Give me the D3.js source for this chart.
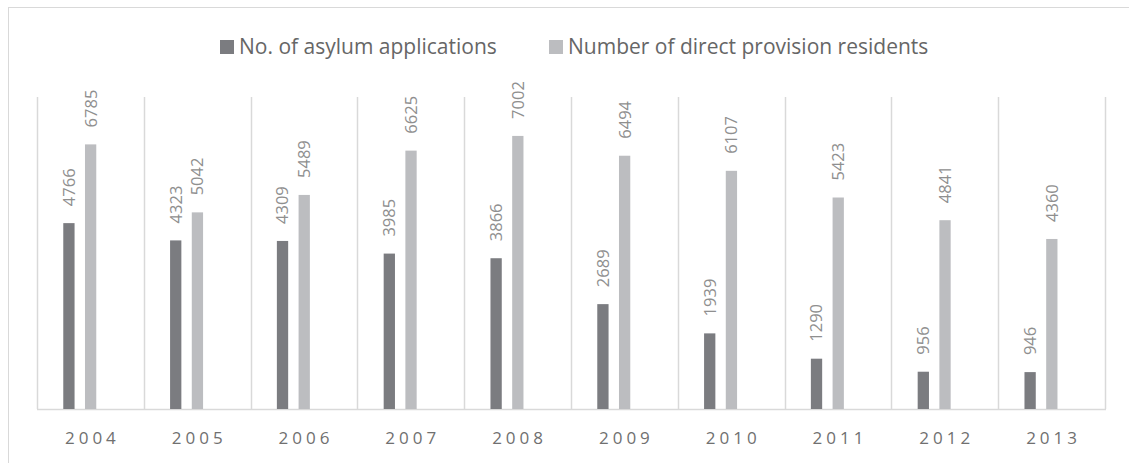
<!DOCTYPE html>
<html lang="en">
<head>
    <meta charset="UTF-8">
    <title>Asylum applications and direct provision residents</title>
    <script src="https://d3js.org/d3.v7.min.js"></script>
    <style>
        body { margin: 0; background: #fff; }
        text { font-family: "Open Sans", "Liberation Sans", sans-serif; }
    </style>
</head>
<body>
    <svg id="chart" width="1129" height="463"></svg>

    <script>
        // data
        const years = ["2004", "2005", "2006", "2007", "2008", "2009", "2010", "2011", "2012", "2013"];
        const seriesNames = ["No. of asylum applications", "Number of direct provision residents"];
        const asylumApps = [4766, 4323, 4309, 3985, 3866, 2689, 1939, 1290, 956, 946];
        const residents = [6785, 5042, 5489, 6625, 7002, 6494, 6107, 5423, 4841, 4360];
        const colors = ["#7b7c80", "#bcbdc0"];

        const width = 1129;
        const height = 463;
        const plot = { left: 37, right: 1105, top: 97, bottom: 409 };

        const svg = d3.select("#chart");

        // outer chart frame (cut off on the right and bottom)
        svg.append("rect")
            .attr("x", 8.5)
            .attr("y", 7.5)
            .attr("width", 1300)
            .attr("height", 600)
            .attr("fill", "none")
            .attr("stroke", "#d9d9d9");

        const x0 = d3.scaleBand()
            .domain(years)
            .range([plot.left, plot.right])
            .padding(0);

        // excel leaves an empty slot on the right of each pair
        const x1 = d3.scaleBand()
            .domain(seriesNames)
            .range([0, x0.bandwidth()])
            .paddingInner(0.48)
            .paddingOuter(1.7)
            .align(0.356);

        const y = d3.scaleLinear()
            .domain([0, 8000])
            .range([plot.bottom, plot.top]);

        const color = d3.scaleOrdinal()
            .domain(seriesNames)
            .range(colors);

        // vertical category gridlines
        svg.append("g")
            .selectAll("line")
            .data(years.concat(["end"]))
            .join("line")
            .attr("x1", (d, i) => Math.round(plot.left + i * x0.step()) + 0.5)
            .attr("x2", (d, i) => Math.round(plot.left + i * x0.step()) + 0.5)
            .attr("y1", plot.top)
            .attr("y2", plot.bottom)
            .attr("stroke", "#d9d9d9")
            .attr("stroke-width", 1.5);

        // bottom axis line
        svg.append("line")
            .attr("x1", plot.left)
            .attr("x2", plot.right + 1)
            .attr("y1", plot.bottom + 0.5)
            .attr("y2", plot.bottom + 0.5)
            .attr("stroke", "#d9d9d9")
            .attr("stroke-width", 1.5);

        const flat = [];
        years.forEach((yr, i) => {
            flat.push({ year: yr, series: seriesNames[0], value: asylumApps[i] });
            flat.push({ year: yr, series: seriesNames[1], value: residents[i] });
        });

        // bars
        svg.append("g")
            .selectAll("rect")
            .data(flat)
            .join("rect")
            .attr("x", d => x0(d.year) + x1(d.series))
            .attr("y", d => y(d.value))
            .attr("width", x1.bandwidth())
            .attr("height", d => y(0) - y(d.value))
            .attr("fill", d => color(d.series));

        // rotated value labels
        svg.append("g")
            .selectAll("text")
            .data(flat)
            .join("text")
            .attr("transform", d => {
                const cx = x0(d.year) + x1(d.series) + x1.bandwidth() / 2;
                return `translate(${cx},${y(d.value) - 17}) rotate(-90)`;
            })
            .attr("dy", "0.36em")
            .attr("text-anchor", "start")
            .style("font-size", "16.5px")
            .style("fill", "#8f8f8f")
            .text(d => d.value);

        // x axis labels
        svg.append("g")
            .selectAll("text")
            .data(years)
            .join("text")
            .attr("x", d => x0(d) + x0.bandwidth() / 2 + 2)
            .attr("y", 444)
            .attr("text-anchor", "middle")
            .style("font-size", "17px")
            .style("letter-spacing", "4px")
            .style("fill", "#707070")
            .text(d => d);

        // legend
        const legendX = [220, 549];
        const legend = svg.append("g")
            .selectAll("g")
            .data(seriesNames)
            .join("g")
            .attr("transform", (d, i) => `translate(${legendX[i]},40)`);

        legend.append("rect")
            .attr("width", 14)
            .attr("height", 14)
            .attr("fill", d => color(d));

        legend.append("text")
            .attr("x", 19)
            .attr("y", 14)
            .style("font-size", "21px")
            .style("fill", "#666")
            .text(d => d);
    </script>
</body>
</html>
